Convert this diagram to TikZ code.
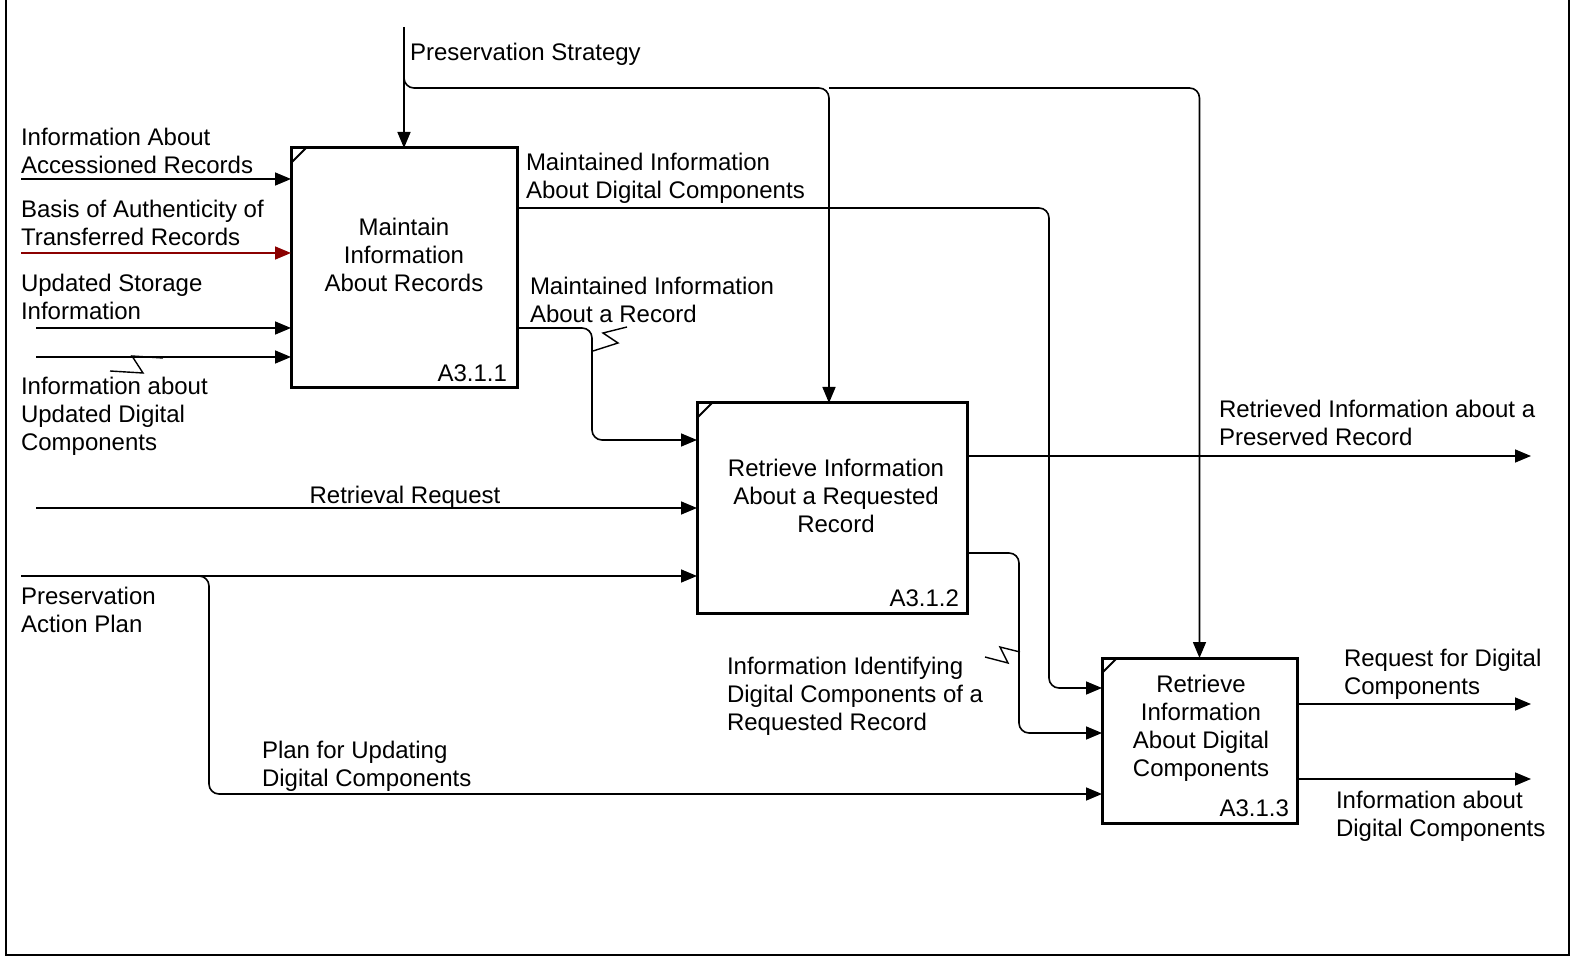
\documentclass[tikz,border=0pt]{standalone}
\usepackage{fontspec}
\setmainfont{Liberation Sans}
\usetikzlibrary{arrows.meta,calc}
\definecolor{authred}{RGB}{139,0,0}
\begin{document}
\begin{tikzpicture}[x=0.5pt,y=-0.5pt,
  every node/.style={font=\fontsize{12pt}{14pt}\selectfont, inner sep=0pt, outer sep=0pt},
  fnbox/.style={draw, line width=1.5pt, rectangle, fill=white},
  boxtext/.style={align=center, yshift=-1pt},
  boxnum/.style={anchor=base east},
  flow/.style={line width=0.8pt, -{Triangle[length=8pt,width=6.5pt]}, rounded corners=5pt},
  squig/.style={line width=0.7pt},
  lbl/.style={align=left, anchor=west, yshift=-1pt}]
\useasboundingbox (0,0) rectangle (1570,957);
% sheet frame (open at the top)
\draw[line width=1pt] (6,0) -- (6,955) -- (1569,955) -- (1569,0);

% activity boxes
\node[fnbox, minimum width=113pt, minimum height=120pt] (b1) at (404,268) {};
\node[fnbox, minimum width=135pt, minimum height=105pt] (b2) at (832,508) {};
\node[fnbox, minimum width=97.5pt, minimum height=82.5pt] (b3) at (1199.5,740.5) {};
\foreach \b in {b1,b2,b3}
  \draw[line width=1pt] ($(\b.north west)+(0,15)$) -- ++(15,-15);

\node[boxtext] (t1) at (404,253) {Maintain\\Information\\About Records};
\node[boxtext] (t2) at (836,494) {Retrieve Information\\About a Requested\\Record};
\node[boxtext] (t3) at (1201,726.5) {Retrieve\\Information\\About Digital\\Components};
\node[boxnum] (n1) at ($(b1.south east)+(-10,-7)$) {A3.1.1};
\node[boxnum] (n2) at ($(b2.south east)+(-8,-7)$) {A3.1.2};
\node[boxnum] (n3) at ($(b3.south east)+(-8,-7)$) {A3.1.3};

% control: preservation strategy
\coordinate (ps) at (404,27);
\coordinate (psj) at (404,72);
\coordinate (psa) at (829,88);
\draw[flow] (ps) -- (b1.north);
\draw[flow] (psj) -- (404,88) -- (psa) -- ($(b2.north west)+(132,0)$);
\draw[flow] (psa) -- (1199.5,88) -- (b3.north);
\node[lbl] (lps) at (410,52) {Preservation Strategy};

% inputs to A3.1.1
\coordinate (i1) at (21,179);
\coordinate (i2) at (21,253);
\coordinate (i3) at (36,328);
\coordinate (i4) at (36,357);
\draw[flow] (i1) -- (i1 -| b1.west);
\draw[flow, draw=authred, fill=authred] (i2) -- (i2 -| b1.west);
\draw[flow] (i3) -- (i3 -| b1.west);
\draw[flow] (i4) -- (i4 -| b1.west);
\draw[squig] (163,358) -- (132,356) -- (143,373) -- (110,371);
\node[lbl] (li1) at (21,149) {Information About\\Accessioned Records};
\node[lbl] (li2) at (21,221) {Basis of Authenticity of\\Transferred Records};
\node[lbl] (li3) at (21,294.5) {Updated Storage\\Information};
\node[lbl] (li4) at (21,414) {Information about\\Updated Digital\\Components};

% outputs of A3.1.1
\draw[flow] ($(b1.north east)+(0,60)$) -- (1049,208) -- (1049,688) -- ($(b3.north west)+(0,30)$);
\draw[flow] ($(b1.north east)+(0,180)$) -- (592,328) -- (592,440) -- ($(b2.north west)+(0,37)$);
\draw[squig] (593,351) -- (618,343) -- (603,333) -- (627,327);
\node[lbl] (lo1) at (526,176) {Maintained Information\\About Digital Components};
\node[lbl] (lo2) at (530,298) {Maintained Information\\About a Record};

% inputs to A3.1.2
\coordinate (rr) at (36,508);
\coordinate (pap) at (21,576);
\draw[flow] (rr) -- (rr -| b2.west);
\draw[flow] (pap) -- (pap -| b2.west);
\draw[flow] (190,576) -- (209,576) -- (209,794) -- ($(b3.north west)+(0,136)$);
\node[yshift=-1pt] (lrr) at (405,495) {Retrieval Request};
\node[lbl] (lpap) at (21,607.5) {Preservation\\Action Plan};
\node[lbl] (lpu) at (262,764) {Plan for Updating\\Digital Components};

% outputs of A3.1.2
\coordinate (rip) at (1531,456);
\draw[flow] ($(b2.north east)+(0,53)$) -- (rip);
\draw[flow] ($(b2.north east)+(0,150)$) -- (1019,553) -- (1019,733) -- ($(b3.north west)+(0,75)$);
\draw[squig] (1020,652) -- (1000,647) -- (1008,663) -- (985,657);
\node[lbl] (lrip) at (1219,421) {Retrieved Information about a\\Preserved Record};
\node[lbl] (lidc) at (727,694.5) {Information Identifying\\Digital Components of a\\Requested Record};

% outputs of A3.1.3
\coordinate (rdc) at (1531,704);
\coordinate (idc) at (1531,779);
\draw[flow] ($(b3.north east)+(0,46)$) -- (rdc);
\draw[flow] ($(b3.north east)+(0,121)$) -- (idc);
\node[lbl] (lrdc) at (1344,672.5) {Request for Digital\\Components};
\node[lbl] (lidg) at (1336,814) {Information about\\Digital Components};
\end{tikzpicture}
\end{document}
